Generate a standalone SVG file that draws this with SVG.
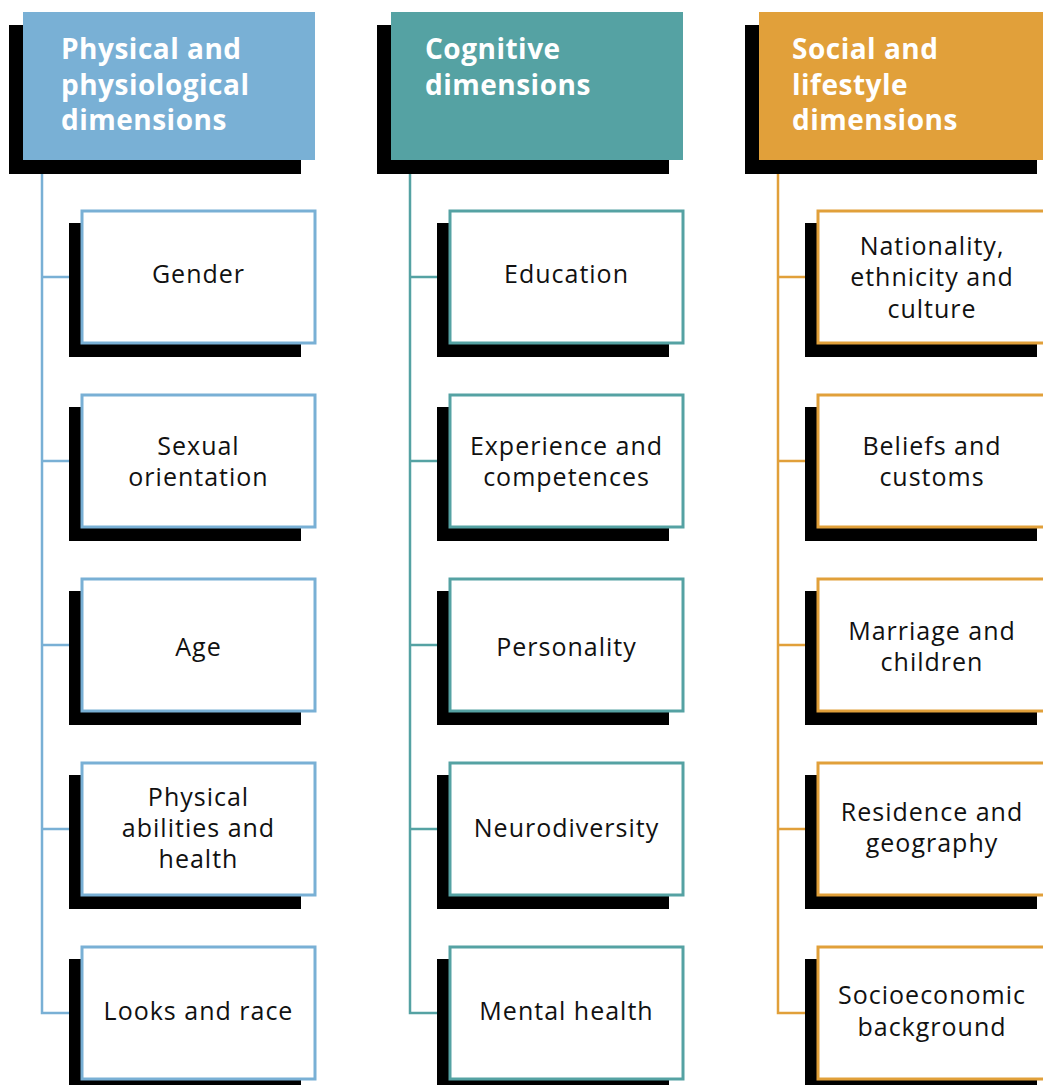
<svg xmlns="http://www.w3.org/2000/svg" width="1043" height="1085" viewBox="0 0 1043 1085">
  <style>
    .shadow { fill: #000000; }
    .head-text { font-family: "Open Sans", "Liberation Sans", sans-serif; font-weight: 700; font-size: 28px; letter-spacing: 0.5px; fill: #ffffff; }
    .item { fill: #ffffff; stroke-width: 3; }
    .item-text { font-family: "Open Sans", "Liberation Sans", sans-serif; font-weight: 500; font-size: 25px; letter-spacing: 1px; fill: #111111; text-anchor: middle; }
    .link { fill: none; stroke-width: 2.5; }
    .blue .head { fill: #79B0D5; } .blue .item, .blue .link { stroke: #79B0D5; }
    .teal .head { fill: #55A2A3; } .teal .item, .teal .link { stroke: #55A2A3; }
    .gold .head { fill: #E1A03A; } .gold .item, .gold .link { stroke: #E1A03A; }
  </style>
  <rect width="1043" height="1085" fill="#ffffff"/>

  <!-- connectors: one trunk per column with branches to each item -->
  <g id="connectors">
    <g class="blue"><path class="link" d="M42,160 V1013 H81 M42,277 H81 M42,461 H81 M42,645 H81 M42,829 H81"/></g>
    <g class="teal"><path class="link" d="M410,160 V1013 H449 M410,277 H449 M410,461 H449 M410,645 H449 M410,829 H449"/></g>
    <g class="gold"><path class="link" d="M778,160 V1013 H817 M778,277 H817 M778,461 H817 M778,645 H817 M778,829 H817"/></g>
  </g>

  <!-- column 1: physical -->
  <g class="blue">
    <g id="physical">
      <rect class="shadow" x="9" y="25" width="292" height="149"/>
      <rect class="head" x="23" y="12" width="292" height="148"/>
      <text class="head-text" x="61"><tspan x="61" y="59">Physical and</tspan><tspan x="61" y="94.5">physiological</tspan><tspan x="61" y="130">dimensions</tspan></text>
    </g>
    <g id="gender">
      <rect class="shadow" x="69" y="223" width="232" height="134"/>
      <rect class="item" x="82" y="211" width="233" height="132"/>
      <text class="item-text" x="198.5" y="283">Gender</text>
    </g>
    <g id="sexual-orientation">
      <rect class="shadow" x="69" y="407" width="232" height="134"/>
      <rect class="item" x="82" y="395" width="233" height="132"/>
      <text class="item-text"><tspan x="198.5" y="455">Sexual</tspan><tspan x="198.5" y="486">orientation</tspan></text>
    </g>
    <g id="age">
      <rect class="shadow" x="69" y="591" width="232" height="134"/>
      <rect class="item" x="82" y="579" width="233" height="132"/>
      <text class="item-text" x="198.5" y="656">Age</text>
    </g>
    <g id="physical-abilities">
      <rect class="shadow" x="69" y="775" width="232" height="134"/>
      <rect class="item" x="82" y="763" width="233" height="132"/>
      <text class="item-text"><tspan x="198.5" y="806">Physical</tspan><tspan x="198.5" y="837">abilities and</tspan><tspan x="198.5" y="868">health</tspan></text>
    </g>
    <g id="looks-race">
      <rect class="shadow" x="69" y="959" width="232" height="134"/>
      <rect class="item" x="82" y="947" width="233" height="132"/>
      <text class="item-text" x="198.5" y="1020">Looks and race</text>
    </g>
  </g>

  <!-- column 2: cognitive -->
  <g class="teal">
    <g id="cognitive">
      <rect class="shadow" x="377" y="25" width="292" height="149"/>
      <rect class="head" x="391" y="12" width="292" height="148"/>
      <text class="head-text"><tspan x="425" y="59">Cognitive</tspan><tspan x="425" y="94.5">dimensions</tspan></text>
    </g>
    <g id="education">
      <rect class="shadow" x="437" y="223" width="232" height="134"/>
      <rect class="item" x="450" y="211" width="233" height="132"/>
      <text class="item-text" x="566.5" y="283">Education</text>
    </g>
    <g id="experience">
      <rect class="shadow" x="437" y="407" width="232" height="134"/>
      <rect class="item" x="450" y="395" width="233" height="132"/>
      <text class="item-text"><tspan x="566.5" y="455">Experience and</tspan><tspan x="566.5" y="486">competences</tspan></text>
    </g>
    <g id="personality">
      <rect class="shadow" x="437" y="591" width="232" height="134"/>
      <rect class="item" x="450" y="579" width="233" height="132"/>
      <text class="item-text" x="566.5" y="656">Personality</text>
    </g>
    <g id="neurodiversity">
      <rect class="shadow" x="437" y="775" width="232" height="134"/>
      <rect class="item" x="450" y="763" width="233" height="132"/>
      <text class="item-text" x="566.5" y="837">Neurodiversity</text>
    </g>
    <g id="mental-health">
      <rect class="shadow" x="437" y="959" width="232" height="134"/>
      <rect class="item" x="450" y="947" width="233" height="132"/>
      <text class="item-text" x="566.5" y="1020">Mental health</text>
    </g>
  </g>

  <!-- column 3: social and lifestyle -->
  <g class="gold">
    <g id="social">
      <rect class="shadow" x="745" y="25" width="292" height="149"/>
      <rect class="head" x="759" y="12" width="292" height="148"/>
      <text class="head-text"><tspan x="792" y="59">Social and</tspan><tspan x="792" y="94.5">lifestyle</tspan><tspan x="792" y="130">dimensions</tspan></text>
    </g>
    <g id="nationality">
      <rect class="shadow" x="805" y="223" width="232" height="134"/>
      <rect class="item" x="818" y="211" width="233" height="132"/>
      <text class="item-text"><tspan x="932" y="255">Nationality,</tspan><tspan x="932" y="286">ethnicity and</tspan><tspan x="932" y="318">culture</tspan></text>
    </g>
    <g id="beliefs">
      <rect class="shadow" x="805" y="407" width="232" height="134"/>
      <rect class="item" x="818" y="395" width="233" height="132"/>
      <text class="item-text"><tspan x="932" y="455">Beliefs and</tspan><tspan x="932" y="486">customs</tspan></text>
    </g>
    <g id="marriage">
      <rect class="shadow" x="805" y="591" width="232" height="134"/>
      <rect class="item" x="818" y="579" width="233" height="132"/>
      <text class="item-text"><tspan x="932" y="640">Marriage and</tspan><tspan x="932" y="671">children</tspan></text>
    </g>
    <g id="residence">
      <rect class="shadow" x="805" y="775" width="232" height="134"/>
      <rect class="item" x="818" y="763" width="233" height="132"/>
      <text class="item-text"><tspan x="932" y="821">Residence and</tspan><tspan x="932" y="852">geography</tspan></text>
    </g>
    <g id="socioeconomic">
      <rect class="shadow" x="805" y="959" width="232" height="134"/>
      <rect class="item" x="818" y="947" width="233" height="132"/>
      <text class="item-text"><tspan x="932" y="1004">Socioeconomic</tspan><tspan x="932" y="1036">background</tspan></text>
    </g>
  </g>
</svg>
